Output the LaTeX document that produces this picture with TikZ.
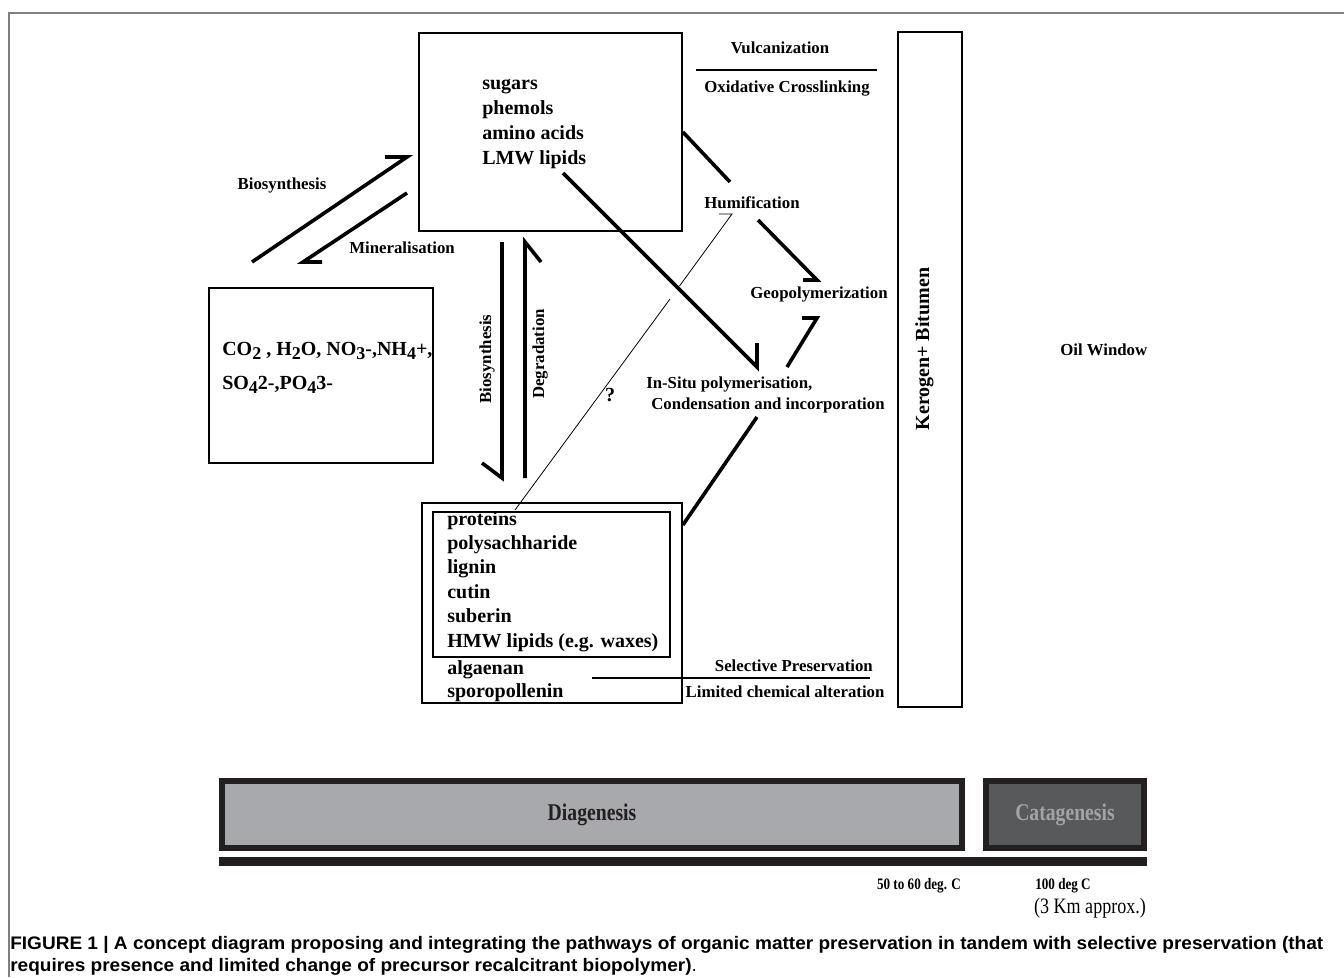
\documentclass[tikz,border=0pt]{standalone}
\usepackage{fontspec}
\setmainfont{Liberation Serif}
\newfontfamily\capfont[FakeStretch=1.05]{Liberation Sans}
\newfontfamily\condfont[FakeStretch=0.82]{Liberation Serif}
\usetikzlibrary{fit}
\definecolor{framegray}{HTML}{7F7F7F}
\definecolor{darkbar}{HTML}{231F20}
\definecolor{diafill}{HTML}{A7A9AC}
\definecolor{catfill}{HTML}{58595B}
\definecolor{cattext}{HTML}{A3A4A6}
\newcommand{\sbx}[1]{\raisebox{-0.5ex}{\fontsize{13.5}{14}\selectfont #1}}
\begin{document}
\begin{tikzpicture}[x=0.75pt,y=-0.75pt,
  boxst/.style={draw, line width=1.3pt, inner sep=0pt},
  arr/.style={line width=2.7pt},
  thinarr/.style={line width=0.6pt},
  sepline/.style={line width=1.5pt},
  lbl/.style={font=\fontsize{12.6}{15}\selectfont\bfseries, inner sep=0pt},
  lst/.style={font=\fontsize{15}{18}\selectfont\bfseries, inner sep=0pt, anchor=base west},
  bigl/.style={font=\fontsize{15}{18}\selectfont\bfseries, inner sep=0pt, anchor=base west},
  bottomlbl/.style={font=\condfont\fontsize{12}{14}\selectfont\bfseries, inner sep=0pt, anchor=base},
  capst/.style={anchor=base west, inner sep=0pt, font=\capfont\bfseries\fontsize{13.6}{16}\selectfont},
  ]
\useasboundingbox (0,0) rectangle (1344,977);
% frame
\draw[framegray, line width=1.5pt] (9.3,977) -- (9.3,13) -- (1344,13);

% boxes
\node[boxst, fit={(419,33) (682,231)}] (topbox) {};
\node[boxst, fit={(209,288) (433,463)}] (inbox) {};
\node[boxst, fit={(422,503) (682,703)}] (botbox) {};
\node[boxst, fit={(433,512) (670,657)}] (innerbox) {};
\node[boxst, fit={(898,32) (962,707)}] (kbox) {};

% top list
\node[lst] (s1) at (482,90) {sugars};
\node[lst] (s2) at (482,115) {phemols};
\node[lst] (s3) at (482,140) {amino acids};
\node[lst] (s4) at (482,165) {LMW lipids};

% inorganic
\node[bigl] (c1) at (222,355) {CO\sbx{2} , H\sbx{2}O, NO\sbx{3}-,NH\sbx{4}+,};
\node[bigl] (c2) at (222,389) {SO\sbx{4}2-,PO\sbx{4}3-};

% bottom list
\node[lst] (p1) at (447,525) {proteins};
\node[lst] (p2) at (447,549) {polysachharide};
\node[lst] (p3) at (447,573.5) {lignin};
\node[lst] (p4) at (447,598) {cutin};
\node[lst] (p5) at (447,622.5) {suberin};
\node[lst] (p6) at (447,647) {HMW lipids (e.g. waxes)};
\node[lst] (p7) at (447,674) {algaenan};
\node[lst] (p8) at (447,697.5) {sporopollenin};

% labels
\node[lbl, anchor=base] (lbio) at (282,190) {Biosynthesis};
\node[lbl, anchor=base] (lmin) at (402,253) {Mineralisation};
\node[lbl, anchor=base] (lvul) at (780,54) {Vulcanization};
\node[lbl, anchor=base] (lox) at (787,93) {Oxidative Crosslinking};
\node[lbl, anchor=base] (lhum) at (752,208) {Humification};
\node[lbl, anchor=base] (lgeo) at (819,298) {Geopolymerization};
\node[lbl, anchor=base west] (lins1) at (646,388) {In-Situ polymerisation,};
\node[lbl, anchor=base west] (lins2) at (651,409) {Condensation and incorporation};
\node[lbl, anchor=base, font=\fontsize{15}{18}\selectfont\bfseries] (lq) at (610,401) {?};
\node[lbl, anchor=base east] (lsel) at (873,671) {Selective Preservation};
\node[lbl, anchor=base] (llim) at (785,697) {Limited chemical alteration};
\node[lbl, anchor=base west] (loil) at (1060,355) {Oil Window};
\node[lbl, rotate=90, anchor=base] (lbio2) at (491,359) {Biosynthesis};
\node[lbl, rotate=90, anchor=base] (ldeg) at (544,354) {Degradation};
\node[rotate=90, anchor=base, inner sep=0pt, font=\fontsize{15}{18}\selectfont\bfseries] (lker) at (929,349) {Kerogen+ Bitumen};

% separator lines
\coordinate (v1) at (696,70); \coordinate (v2) at (877,70);
\draw[sepline] (v1) -- (v2);
\coordinate (sp1) at (592,678); \coordinate (sp2) at (870,678);
\draw[sepline] (sp1) -- (sp2);

% arrows
\coordinate (a1s) at (252,262); \coordinate (a1e) at (407,157); \coordinate (a1t) at (385,157);
\draw[arr] (a1s) -- (a1e) -- (a1t);
\coordinate (a2s) at (407,193); \coordinate (a2e) at (303,262); \coordinate (a2t) at (322,262);
\draw[arr] (a2s) -- (a2e) -- (a2t);
\coordinate (a3s) at (502,242); \coordinate (a3e) at (502,478); \coordinate (a3t) at (482,463);
\draw[arr] (a3s) -- (a3e) -- (a3t);
\coordinate (a4s) at (525,478); \coordinate (a4e) at (525,242); \coordinate (a4t) at (541,262);
\draw[arr] (a4s) -- (a4e) -- (a4t);
\coordinate (a5e) at (730,182);
\draw[arr] (topbox.east |- 0,132) -- (a5e);
\coordinate (a6s) at (563,173); \coordinate (a6e) at (757,367); \coordinate (a6t) at (757,343);
\draw[arr] (a6s) -- (a6e) -- (a6t);
\coordinate (a7s) at (758,220); \coordinate (a7e) at (817,280); \coordinate (a7t) at (803,280);
\draw[arr] (a7s) -- (a7e) -- (a7t);
\coordinate (a8s) at (787,367); \coordinate (a8e) at (817,318); \coordinate (a8t) at (802,318);
\draw[arr] (a8s) -- (a8e) -- (a8t);
\coordinate (a9s) at (757,417);
\draw[arr] (a9s) -- (botbox.east |- 0,525);
% thin line with gap
\coordinate (t1) at (515,510); \coordinate (t2) at (670,299);
\coordinate (t3) at (679.5,286); \coordinate (t4) at (732,214); \coordinate (t5) at (719,214);
\draw[thinarr] (t1) -- (t2);
\draw[thinarr] (t3) -- (t4) -- (t5);

% bottom bars
\node[draw=darkbar, line width=5pt, fill=diafill, inner sep=0pt, fit={(222,781) (962,848)}] (dia) {};
\node[draw=darkbar, line width=5pt, fill=catfill, inner sep=0pt, fit={(986,781) (1144,848)}] (cat) {};
\node[font=\condfont\fontsize{18}{20}\selectfont\bfseries, text=darkbar] (ldia) at (dia.center) {Diagenesis};
\node[font=\condfont\fontsize{18}{20}\selectfont\bfseries, text=cattext] (lcat) at (cat.center) {Catagenesis};
\fill[darkbar] (219,857) rectangle (1147,866);
\node[bottomlbl] (t50) at (919,889) {50 to 60 deg. C};
\node[bottomlbl] (t100) at (1063,889) {100 deg C};
\node[font=\condfont\fontsize{16.5}{18}\selectfont, inner sep=0pt, anchor=base] (t3km) at (1090,913) {(3 Km approx.)};

% caption
\node[capst] (cap1) at (10,949) {FIGURE 1 | A concept diagram proposing and integrating the pathways of organic matter preservation in tandem with selective preservation (that};
\node[capst] (cap2) at (10,971) {requires presence and limited change of precursor recalcitrant biopolymer)\mdseries.};
\end{tikzpicture}
\end{document}
